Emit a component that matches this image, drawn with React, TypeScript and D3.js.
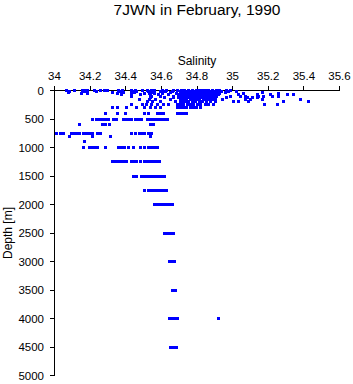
import React from 'react'
import * as d3 from 'd3'

const W = 353
const H = 384

// sampling depths (m) and the salinities measured at each of them
const depthLevels = [0, 10, 20, 30, 50, 75, 100, 125, 150, 200, 250, 300, 400, 500, 600, 750, 800, 900, 1000, 1250, 1500, 1750, 2000, 2500, 3000, 3500, 4000, 4500]

const salinityByLevel = [
  [34.07, 34.11, 34.155, 34.171, 34.188, 34.222, 34.261, 34.278, 34.295, 34.362, 34.379, 34.43, 34.452, 34.492, 34.52, 34.542, 34.562, 34.607, 34.629, 34.669, 34.691, 34.713, 34.73, 34.753, 34.772, 34.795, 34.812, 34.829, 34.845, 34.862, 34.885, 34.907, 34.929, 34.963, 34.986],
  [34.087, 34.177, 34.233, 34.357, 34.441, 34.537, 34.593, 34.66, 34.72, 34.739, 34.765, 34.784, 34.805, 34.823, 34.851, 34.87, 34.89, 34.91, 34.935, 34.975],
  [34.16, 34.368, 34.458, 34.525, 34.621, 34.705, 34.725, 34.745, 34.761, 34.78, 34.801, 34.82, 34.84, 34.858, 34.874, 34.9, 34.919, 35.02],
  [34.076, 34.188, 34.323, 34.385, 34.447, 34.553, 34.649, 34.71, 34.722, 34.74, 34.767, 34.785, 34.806, 34.825, 34.846, 34.865, 34.88, 34.896, 34.925, 34.958, 35.166],
  [34.149, 34.183, 34.351, 34.374, 34.435, 34.503, 34.531, 34.559, 34.604, 34.683, 34.705, 34.725, 34.744, 34.76, 34.778, 34.8, 34.817, 34.835, 34.857, 34.87, 34.885, 34.905, 34.924, 35.059, 35.256],
  [34.374, 34.48, 34.537, 34.582, 34.638, 34.694, 34.713, 34.733, 34.75, 34.767, 34.785, 34.806, 34.822, 34.84, 34.86, 34.879, 34.9, 34.919, 35.031, 35.138, 35.211, 35.306, 35.34],
  [34.435, 34.542, 34.593, 34.666, 34.705, 34.722, 34.74, 34.756, 34.772, 34.789, 34.81, 34.829, 34.848, 34.868, 34.888, 34.907, 34.986, 35.042, 35.07, 35.143, 35.171, 35.222, 35.256],
  [34.537, 34.615, 34.67, 34.694, 34.712, 34.728, 34.744, 34.76, 34.778, 34.8, 34.817, 34.835, 34.857, 34.875, 34.896, 34.963, 35.081, 35.11, 35.138],
  [34.475, 34.531, 34.565, 34.649, 34.705, 34.722, 34.742, 34.761, 34.778, 34.795, 34.815, 34.834, 34.852, 34.87, 34.885, 34.905, 34.941, 35.07, 35.098, 35.166, 35.379],
  [34.52, 34.548, 34.593, 34.677, 34.705, 34.722, 34.739, 34.755, 34.772, 34.79, 34.812, 34.83, 34.851, 34.875, 34.902, 35.003, 35.031, 35.087, 35.284, 35.424],
  [34.43, 34.492, 34.514, 34.542, 34.581, 34.61, 34.638, 34.69, 34.705, 34.725, 34.745, 34.761, 34.78, 34.801, 34.82, 34.846, 34.865, 34.89, 35.177, 35.25],
  [34.323, 34.351, 34.407, 34.458, 34.503, 34.537, 34.565, 34.593, 34.688, 34.705, 34.722, 34.74, 34.761, 34.778, 34.795, 34.817],
  [34.289, 34.351, 34.396, 34.508, 34.525, 34.576, 34.593, 34.61, 34.688, 34.705, 34.722, 34.739],
  [34.216, 34.233, 34.25, 34.267, 34.284, 34.301, 34.329, 34.346, 34.385, 34.402, 34.419, 34.435, 34.452, 34.469, 34.486, 34.52, 34.537, 34.553, 34.57, 34.587, 34.604, 34.621, 34.632],
  [34.143, 34.272, 34.289, 34.306, 34.537, 34.553],
  [34.014, 34.031, 34.053, 34.093, 34.11, 34.126, 34.143, 34.16, 34.177, 34.194, 34.211, 34.239, 34.261, 34.435, 34.452, 34.475, 34.492, 34.508, 34.525, 34.542],
  [34.087, 34.216, 34.312, 34.537],
  [34.171],
  [34.16, 34.194, 34.211, 34.228, 34.244, 34.284, 34.357, 34.374, 34.391, 34.413, 34.441, 34.48, 34.508, 34.525, 34.542, 34.559, 34.576],
  [34.323, 34.34, 34.357, 34.374, 34.391, 34.407, 34.43, 34.447, 34.463, 34.48, 34.503, 34.52, 34.537, 34.553, 34.57, 34.587],
  [34.441, 34.458, 34.486, 34.503, 34.52, 34.537, 34.553, 34.57, 34.587, 34.604, 34.615],
  [34.508, 34.525, 34.542, 34.559, 34.576, 34.593, 34.61, 34.626],
  [34.559, 34.576, 34.593, 34.61, 34.626, 34.643, 34.66],
  [34.615, 34.632, 34.649, 34.666],
  [34.643, 34.66, 34.671],
  [34.66, 34.677],
  [34.643, 34.66, 34.677, 34.688, 34.919],
  [34.649, 34.666, 34.683],
]

const salinityTicks = [34, 34.2, 34.4, 34.6, 34.8, 35, 35.2, 35.4, 35.6]
const depthTicks = [0, 500, 1000, 1500, 2000, 2500, 3000, 3500, 4000, 4500, 5000]

export default function App() {
  const x = d3.scaleLinear().domain([34, 35.6]).range([54.5, 339.5])
  const y = d3.scaleLinear().domain([0, 5000]).range([90.5, 375.5])

  const points = depthLevels.flatMap((d, i) => salinityByLevel[i].map(s => ({ s, d })))
  const font = '"Liberation Sans", Arial, sans-serif'

  return (
    <svg width={W} height={H} style={{ position: 'absolute', left: 0, top: 0, background: '#fff' }} fontFamily={font}>
      <text x={197} y={15} textAnchor="middle" fontSize={15.5}>7JWN in February, 1990</text>
      <text x={197} y={65} textAnchor="middle" fontSize={12}>Salinity</text>
      <text transform={`translate(12,${(y(0) + y(5000)) / 2}) rotate(-90)`} textAnchor="middle" fontSize={12}>Depth [m]</text>

      <g shapeRendering="crispEdges" stroke="#000">
        <line x1={x(34)} x2={x(35.6)} y1={y(0)} y2={y(0)} />
        <line x1={x(34)} x2={x(34)} y1={y(0)} y2={y(5000)} />
        {salinityTicks.map(t => (
          <line key={t} x1={x(t)} x2={x(t)} y1={y(0) - 5} y2={y(0)} />
        ))}
        {depthTicks.map(t => (
          <line key={t} x1={x(34) - 5} x2={x(34)} y1={y(t)} y2={y(t)} />
        ))}
      </g>
      {salinityTicks.map(t => (
        <text key={t} x={x(t)} y={80} textAnchor="middle" fontSize={11.5}>{String(t)}</text>
      ))}
      {depthTicks.map(t => (
        <text key={t} x={44} y={y(t) + 4} textAnchor="end" fontSize={11.5}>{t}</text>
      ))}

      <g fill="#0000ff" shapeRendering="crispEdges">
        {points.map((p, i) => (
          <rect key={i} x={x(p.s) - 1.5} y={y(p.d) - 1.5} width={3} height={3} />
        ))}
      </g>
    </svg>
  )
}
